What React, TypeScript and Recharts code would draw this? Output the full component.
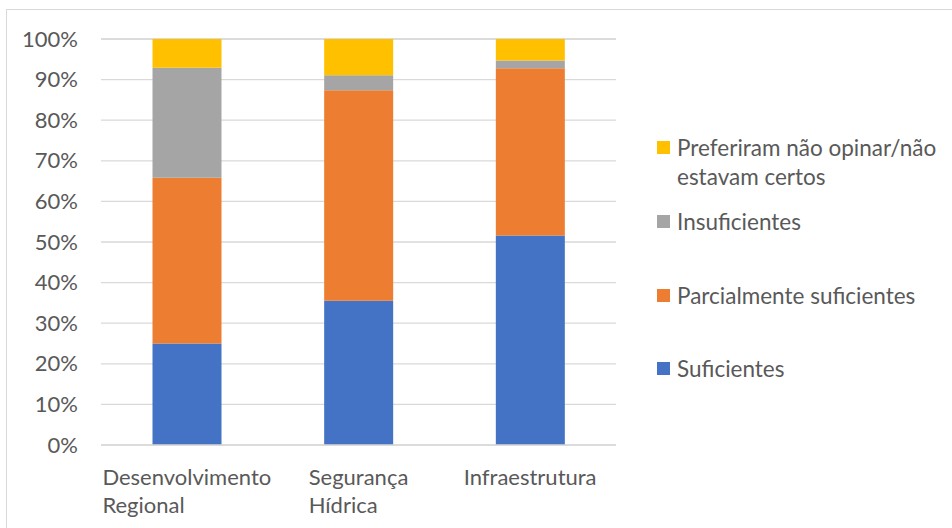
import { BarChart, Bar, XAxis, YAxis, CartesianGrid } from "recharts";

const categories = ["Desenvolvimento Regional", "Segurança Hídrica", "Infraestrutura"];
const suficientes = [25, 35.5, 51.6];
const parcialmente = [40.8, 51.9, 41.2];
const insuficientes = [27.1, 3.7, 1.9];
const preferiram = [7.1, 8.9, 5.3];
const yTicks = [0, 10, 20, 30, 40, 50, 60, 70, 80, 90, 100];

const series = [
  { key: "suf", name: "Suficientes", color: "#4472C4", values: suficientes },
  { key: "parc", name: "Parcialmente suficientes", color: "#ED7D31", values: parcialmente },
  { key: "insuf", name: "Insuficientes", color: "#A5A5A5", values: insuficientes },
  { key: "pref", name: "Preferiram não opinar/não estavam certos", color: "#FFC000", values: preferiram },
];

const data = categories.map((c, i) => {
  const row: Record<string, string | number> = { name: c };
  series.forEach((s) => (row[s.key] = s.values[i]));
  return row;
});

const FONT = "Lato, 'Open Sans', sans-serif";
const TEXT = "#595959";
const AXIS_FS = 22;

let ctx: CanvasRenderingContext2D | null = null;
const measure = (t: string) => {
  if (!ctx) ctx = document.createElement("canvas").getContext("2d");
  if (!ctx) return t.length * 11;
  ctx.font = `${AXIS_FS}px Lato`;
  return ctx.measureText(t).width;
};

// wrapped labels: widest line centred, the rest left-aligned with it
const XTick = (props: any) => {
  const { x, y, payload } = props;
  const label = String(payload.value);
  const lines = label === "Infraestrutura" ? [label] : label.split(" ");
  const w = Math.max(...lines.map(measure));
  return (
    <text x={x - w / 2} y={y} fill={TEXT} fontSize={AXIS_FS} fontFamily={FONT} textAnchor="start">
      {lines.map((l: string, i: number) => (
        <tspan key={i} x={x - w / 2} dy={i === 0 ? 31.5 : 28.5}>
          {l}
        </tspan>
      ))}
    </text>
  );
};

const YTick = (props: any) => {
  const { y, payload } = props;
  return (
    <text x={78} y={y} dy={7.5} fill={TEXT} fontSize={AXIS_FS} fontFamily={FONT} textAnchor="end">
      {payload.value}%
    </text>
  );
};

const legendTops = [147.7, 221.7, 295, 368];

export default function App() {
  const legendItems = [...series].reverse();
  return (
    <div style={{ position: "absolute", left: 0, top: 0, width: 952, height: 528, background: "#fff", overflow: "hidden" }}>
      <div
        style={{
          position: "absolute",
          left: 6,
          top: 9,
          width: 960,
          height: 540,
          border: "1.5px solid #d9d9d9",
        }}
      />
      <BarChart
        width={952}
        height={528}
        data={data}
        margin={{ top: 39, right: 336, bottom: 0, left: 0 }}
        barCategoryGap="30%"
        style={{ position: "absolute", left: 0, top: 0 }}
      >
        <CartesianGrid vertical={false} stroke="#d9d9d9" strokeWidth={1.3} />
        <XAxis
          dataKey="name"
          interval={0}
          tickLine={false}
          axisLine={{ stroke: "#d9d9d9", strokeWidth: 1.3 }}
          tick={<XTick />}
          height={83}
        />
        <YAxis
          width={101}
          domain={[0, 100]}
          ticks={yTicks}
          axisLine={false}
          tickLine={false}
          tick={<YTick />}
        />
        {series.map((s) => (
          <Bar key={s.key} dataKey={s.key} name={s.name} stackId="a" fill={s.color} isAnimationActive={false} />
        ))}
      </BarChart>
      {legendItems.map((s, i) => (
        <div
          key={s.key}
          style={{
            position: "absolute",
            left: 657,
            top: legendTops[i] - 14.5,
            width: 295,
            fontFamily: FONT,
            fontSize: 22.5,
            color: TEXT,
            lineHeight: "29px",
            display: "flex",
            alignItems: "flex-start",
          }}
        >
          <span
            style={{
              display: "inline-block",
              width: 13,
              height: 13,
              background: s.color,
              marginTop: 8,
              marginRight: 7,
              flexShrink: 0,
            }}
          />
          <span style={{ width: 275 }}>{s.name}</span>
        </div>
      ))}
    </div>
  );
}
